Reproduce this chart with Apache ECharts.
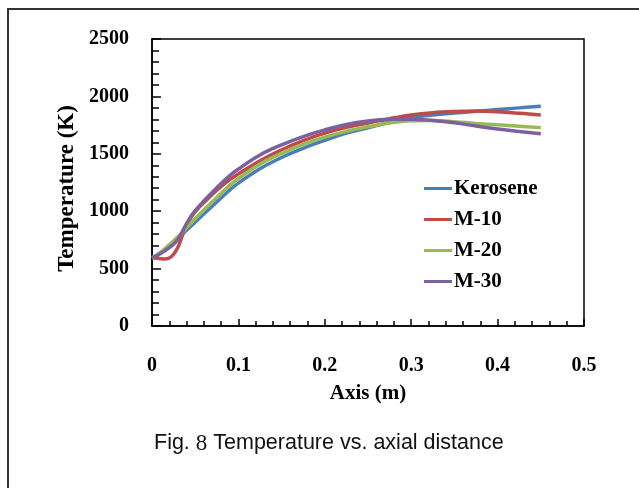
<!DOCTYPE html>
<html>
<head>
<meta charset="utf-8">
<script src="https://cdn.jsdelivr.net/npm/echarts@6/dist/echarts.min.js"></script>
<style>html,body{margin:0;padding:0;background:#fff}#c{width:639px;height:488px}</style>
</head>
<body>
<div id="c"></div>
<script>
var xs = [0, 0.005, 0.01, 0.015, 0.02, 0.025, 0.03, 0.035, 0.04, 0.045, 0.05, 0.06, 0.075, 0.09, 0.1, 0.125, 0.15, 0.175, 0.2, 0.225, 0.25, 0.275, 0.3, 0.325, 0.35, 0.375, 0.4, 0.425, 0.45];
var kerosene = [595, 615, 640, 670, 700, 732, 765, 800, 835, 870, 905, 975, 1080, 1185, 1245, 1370, 1468, 1548, 1617, 1680, 1727, 1775, 1815, 1838, 1855, 1870, 1885, 1900, 1915];
var m10 = [595, 590, 586, 584, 592, 625, 685, 785, 875, 945, 995, 1075, 1183, 1275, 1325, 1440, 1535, 1615, 1680, 1730, 1768, 1806, 1838, 1858, 1868, 1872, 1866, 1853, 1837];
var m20 = [595, 615, 640, 672, 708, 742, 778, 815, 855, 895, 935, 1010, 1120, 1225, 1285, 1410, 1503, 1582, 1645, 1695, 1735, 1768, 1787, 1790, 1780, 1765, 1752, 1740, 1728];
var m30 = [595, 612, 632, 655, 682, 712, 755, 820, 893, 955, 1005, 1090, 1205, 1310, 1368, 1490, 1578, 1650, 1708, 1755, 1785, 1800, 1802, 1790, 1770, 1742, 1716, 1695, 1675];
var seriesNames = ['Kerosene', 'M-10', 'M-20', 'M-30'];
var colors = ['#4A7EBB', '#BE4B48', '#98B954', '#7D60A0'];

function pairs(ys) { return xs.map(function (x, i) { return [x, ys[i]]; }); }
var allData = [kerosene, m10, m20, m30];

var serif = '"Liberation Serif", "Times New Roman", serif';
var chart = echarts.init(document.getElementById('c'), null, {renderer: 'canvas'});
chart.setOption({
  backgroundColor: '#fff',
  animation: false,
  color: colors,
  grid: {left: 152, top: 39, width: 432, height: 287, show: true, borderColor: '#000', borderWidth: 1.5, backgroundColor: 'transparent'},
  legend: {
    orient: 'vertical', left: 424, top: 178, padding: 0, itemWidth: 28, itemHeight: 3, itemGap: 10, icon: 'rect',
    data: seriesNames,
    textStyle: {fontFamily: serif, fontWeight: 'bold', fontSize: 21, color: '#000', lineHeight: 21, padding: [0, 0, 0, -3]}
  },
  xAxis: {
    type: 'value', min: 0, max: 0.5, interval: 0.1,
    name: 'Axis (m)', nameLocation: 'middle', nameGap: 57,
    nameTextStyle: {fontFamily: serif, fontWeight: 'bold', fontSize: 21, color: '#000'},
    axisLine: {show: true, onZero: false, lineStyle: {color: '#000', width: 1.5}},
    axisTick: {show: true, inside: true, length: 7, lineStyle: {color: '#000', width: 1.5}},
    minorTick: {show: true, splitNumber: 5, length: 5, lineStyle: {color: '#000', width: 1.5}},
    splitLine: {show: false},
    axisLabel: {margin: 30, fontFamily: serif, fontWeight: 'bold', fontSize: 20, color: '#000'}
  },
  yAxis: {
    type: 'value', min: 0, max: 2500, interval: 500,
    name: 'Temperature (K)', nameLocation: 'middle', nameGap: 67,
    nameTextStyle: {fontFamily: serif, fontWeight: 'bold', fontSize: 23, color: '#000', padding: [0, 12, 0, 0]},
    axisLine: {show: true, onZero: false, lineStyle: {color: '#000', width: 1.5}},
    axisTick: {show: true, inside: true, length: 9, lineStyle: {color: '#000', width: 1.5}},
    minorTick: {show: true, splitNumber: 5, length: 7, lineStyle: {color: '#000', width: 1.5}},
    splitLine: {show: false},
    axisLabel: {margin: 23, fontFamily: serif, fontWeight: 'bold', fontSize: 20, color: '#000',
      formatter: function (v) { return String(v); }}
  },
  series: seriesNames.map(function (n, i) {
    return {
      name: n, type: 'line', data: pairs(allData[i]), smooth: 0.4, symbol: 'none', showSymbol: false,
      lineStyle: {width: 3.5, color: colors[i]}, itemStyle: {color: colors[i]}
    };
  }),
  graphic: [
    {type: 'rect', shape: {x: 8, y: 9, width: 700, height: 600}, style: {fill: 'none', stroke: '#333', lineWidth: 2}, silent: true},
    {type: 'text', left: 154, top: 432, style: {
      text: '{a|Fig. }{b|8}{a| Temperature vs. axial distance}',
      rich: {
        a: {fontFamily: '"Liberation Sans", Arial, sans-serif', fontSize: 21.5, fill: '#111'},
        b: {fontFamily: serif, fontSize: 23, fill: '#111'}
      }
    }}
  ]
});
</script>
</body>
</html>
